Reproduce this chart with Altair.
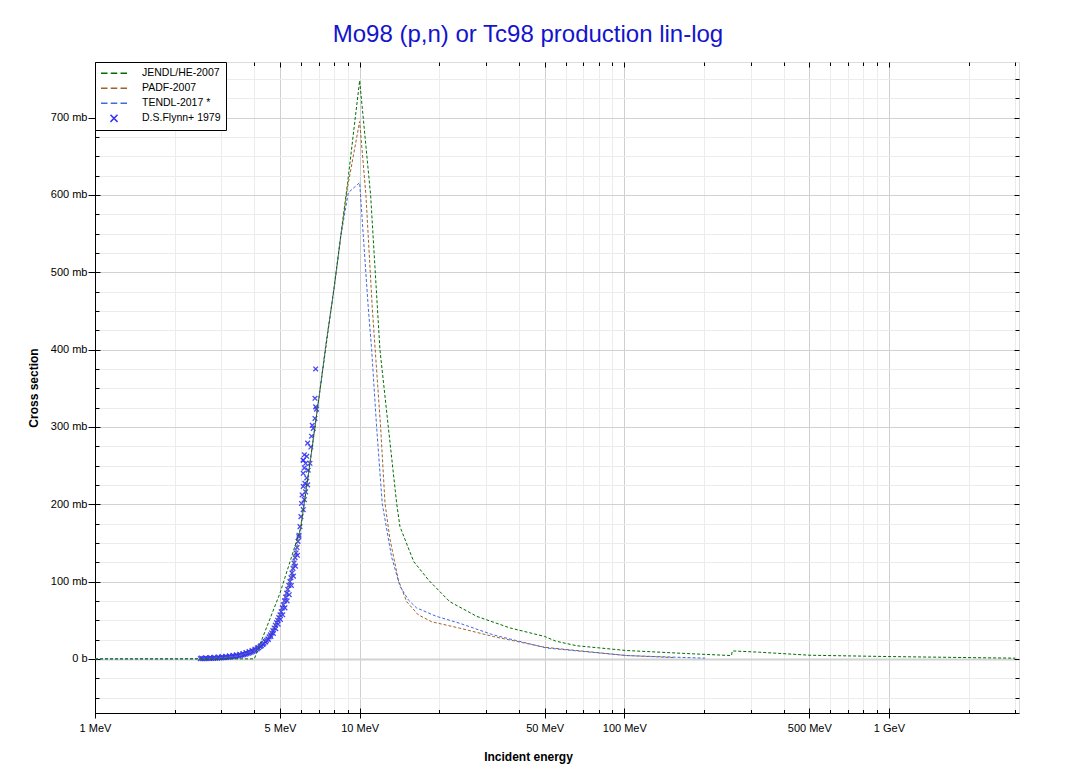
import altair as alt
import pandas as pd

# ---------------- data ----------------
series_names = ["JENDL/HE-2007", "PADF-2007", "TENDL-2017 *", "D.S.Flynn+ 1979"]
series_colors = ["#006d00", "#a0602a", "#4169e1", "#3535f5"]

jendl_e = [1, 2, 3, 4.0, 5, 6, 7, 8, 9, 10, 11.0, 11.93, 12.83, 13.8, 14.2, 16, 18.2,
           21.9, 27.7, 37, 50, 55, 66, 102, 182, 254, 256, 325, 503, 1000, 3000]
jendl_s = [0, 0, 0, 0, 85, 170, 335, 480, 615, 748, 600, 400, 300, 201, 171, 126, 102,
           74, 55, 40, 29, 23, 17, 10.8, 6.5, 4.3, 10.3, 8.6, 4.7, 3.0, 0.9]

padf_e = [2.47, 3.0, 3.5, 4.0, 4.5, 5.0, 5.5, 6.0, 6.5, 7.0, 7.5, 8.0, 8.5, 9.0, 10.0,
          10.56, 11.16, 12.0, 12.47, 13.0, 14.0, 15.05, 16.65, 18.7, 23.9, 32, 50, 102, 153]
padf_s = [0, 1.3, 4, 10.5, 26, 57, 105, 173, 254, 335, 413, 478, 548, 610, 695,
          600, 454, 300, 201, 156, 102, 74, 57, 48, 39.7, 28.9, 15, 4.3, 1.7]

tendl_e = [1, 2, 2.5, 3.0, 3.5, 4.0, 4.5, 5.0, 5.5, 6.0, 6.5, 7.0, 7.5, 8.0, 8.5, 9.06, 10,
           10.78, 11.1, 11.59, 12.17, 12.83, 13.2, 14.2, 15.3, 16.4, 19.5, 23.9, 32, 51, 102, 202]
tendl_s = [0, 0, 0.2, 1.3, 4, 10.5, 26, 57, 105, 173, 254, 335, 413, 478, 548, 603, 616,
           454, 400, 300, 201, 156, 132, 94, 76, 66, 55, 46, 31, 14, 4.3, 0.9]

flynn_e = [2.50, 2.55, 2.60, 2.65, 2.70, 2.75, 2.80, 2.85, 2.90, 2.95,
           3.00, 3.05, 3.10, 3.15, 3.20, 3.25, 3.30, 3.35, 3.40, 3.45,
           3.50, 3.55, 3.60, 3.65, 3.70, 3.75, 3.80, 3.85, 3.90, 3.95,
           4.00, 4.05, 4.10, 4.15, 4.20, 4.25, 4.30, 4.35, 4.40, 4.45,
           4.50, 4.55, 4.60, 4.65, 4.70, 4.75, 4.80, 4.85, 4.90, 4.95,
           5.00, 5.05, 5.10, 5.15, 5.20, 5.25, 5.30, 5.35, 5.40, 5.45,
           5.50, 5.55, 5.60, 5.65, 5.70, 5.75, 5.80, 5.85, 5.90,
           2.52, 2.62, 2.72, 2.82, 2.92, 3.02, 3.12, 3.22, 3.32, 3.42,
           3.52, 3.62, 3.72, 3.82, 3.92, 4.02, 4.12, 4.22, 4.32, 4.42,
           4.52, 4.62, 4.72, 4.82, 4.92, 5.02, 5.12, 5.22, 5.32, 5.42,
           5.52, 5.62, 5.72, 5.82,
           5.89, 5.95, 6.00, 6.03, 6.12, 6.06, 6.18, 6.12, 6.25, 6.12,
           6.36, 6.21, 6.31, 6.39, 6.12, 6.18, 6.49, 6.25, 6.12, 6.31,
           6.18, 6.54, 6.36, 6.58, 6.68, 6.62, 6.78, 6.87, 6.82, 6.78, 6.82]
flynn_s = [0.2, 0.3, 0.3, 0.4, 0.5, 0.6, 0.7, 0.8, 1.0, 1.1,
           1.3, 1.5, 1.7, 1.9, 2.2, 2.4, 2.7, 3.0, 3.3, 3.7,
           4.0, 4.5, 5.0, 5.5, 6.0, 6.6, 7.3, 8.0, 8.8, 9.6,
           10.5, 11.7, 13.0, 14.3, 15.6, 17, 18.7, 20.4, 22.3, 24,
           26, 28.5, 31, 33.5, 36.5, 40, 43.5, 47, 50, 53.5,
           57, 61, 66, 70, 75, 80, 85, 90, 95, 100,
           105, 111, 117, 124, 131, 137, 144, 152, 160,
           1.2, 1.5, 1.8, 2.1, 2.5, 2.9, 3.3, 3.9, 4.5, 5.2,
           6.0, 7.0, 8.1, 9.4, 10.8, 12.4, 14.4, 16.6, 19.2, 22,
           25, 29, 33, 39, 45, 51, 57, 66, 75, 83,
           95, 107, 120, 134,
           158, 171, 184, 201, 193, 212, 206, 223, 216, 240,
           225, 227, 234, 244, 257, 247, 253, 253, 257, 262,
           264, 274, 279, 288, 298, 302, 311, 323, 326, 337, 375]

x_major = [1, 5, 10, 50, 100, 500, 1000]
x_minor = [2, 3, 4, 6, 7, 8, 9, 20, 30, 40, 60, 70, 80, 90,
           200, 300, 400, 600, 700, 800, 900, 2000, 3000]
x_ticks = sorted(x_major + x_minor)
y_ticks = [-50, -25, 0, 25, 50, 75, 100, 125, 150, 175, 200, 225, 250, 275, 300, 325,
           350, 375, 400, 425, 450, 475, 500, 525, 550, 575, 600, 625, 650, 675, 700, 725, 750]

# ---------------- tables ----------------
rows = []
for name, es, ss in [(series_names[0], jendl_e, jendl_s),
                     (series_names[1], padf_e, padf_s),
                     (series_names[2], tendl_e, tendl_s)]:
    for i, (e, s) in enumerate(zip(es, ss)):
        rows.append({"series": name, "E": e, "S": s, "i": i})
lines_df = pd.DataFrame(rows)
pts_df = pd.DataFrame({"series": series_names[3], "E": flynn_e, "S": flynn_s})

FONT = "Liberation Sans"
W, H = 924, 651

xscale = alt.Scale(type="log", domain=[1, 3100], nice=False)
yscale = alt.Scale(domain=[-70, 772], nice=False, zero=False)

dash_path = "M-1,0L-0.5,0M-0.25,0L0.25,0M0.5,0L1,0"
x_path = "M-0.27,-0.27L0.27,0.27M0.27,-0.27L-0.27,0.27"
cscale = alt.Scale(domain=series_names, range=series_colors)
sscale = alt.Scale(domain=series_names, range=[dash_path, dash_path, dash_path, x_path])

xmaj_test = "indexof([" + ",".join(str(v) for v in x_major) + "], datum.value) >= 0"
ymaj_test = "datum.value % 100 == 0"


def cond(test, a, b):
    return {"condition": {"test": test, "value": a}, "value": b}


ax_x_main = alt.Axis(
    orient="bottom", values=x_ticks,
    labelExpr="(" + xmaj_test + ") ? (datum.value >= 1000 ? (datum.value / 1000) + ' GeV' : datum.value + ' MeV') : ''",
    grid=True, gridColor=cond(xmaj_test, "#cfcfcf", "#ececec"), gridWidth=1,
    tickSize=cond(xmaj_test, 5, 0), tickColor="black", domainColor="black", domainWidth=1,
    labelFont=FONT, labelFontSize=11, labelColor="black", labelPadding=4,
    labelFlush=False, labelOverlap=False,
    title="Incident energy", titleFont=FONT, titleFontSize=12, titleFontWeight="bold",
    titleColor="black", titleX=433, titleY=38)

ax_y_main = alt.Axis(
    orient="left", values=y_ticks,
    labelExpr="datum.value == 0 ? '0 b' : (datum.value % 100 == 0 ? datum.value + ' mb' : '')",
    grid=True, gridColor=cond(ymaj_test, "#d2d2d2", "#ececec"),
    gridWidth=cond("datum.value == 0", 2, 1),
    tickSize=cond(ymaj_test, 7, 0), tickColor="black", domainColor="black", domainWidth=1,
    labelFont=FONT, labelFontSize=11, labelColor="black", labelPadding=1,
    labelFlush=False, labelOverlap=False,
    title="Cross section", titleFont=FONT, titleFontSize=12, titleFontWeight="bold",
    titleColor="black", titleX=-55, titleY=325.5)


def inner_x(orient):
    return alt.Axis(orient=orient, offset=-H, values=x_ticks, labels=False, grid=False,
                    domain=False, tickSize=cond(xmaj_test, 5, 3.5), tickColor="black",
                    title=None)


def inner_y(orient):
    return alt.Axis(orient=orient, offset=-W, values=y_ticks, labels=False, grid=False,
                    domain=False, tickSize=cond(ymaj_test, 5, 4), tickColor="black",
                    title=None)


leg = alt.Legend(title=None, orient="top-left", offset=0, padding=5,
                 fillColor="white", strokeColor="black", cornerRadius=0,
                 symbolSize=676, symbolStrokeWidth=1.5, symbolOpacity=1,
                 labelFont=FONT, labelFontSize=10.5, labelColor="black", labelOffset=14,
                 clipHeight=12.7, rowPadding=2)

pts = alt.Chart(pts_df).mark_point(filled=False, size=300, strokeWidth=1.3, opacity=0.9).encode(
    x=alt.X("E:Q", scale=xscale, axis=ax_x_main),
    y=alt.Y("S:Q", scale=yscale, axis=ax_y_main),
    color=alt.Color("series:N", scale=cscale, legend=leg),
    shape=alt.Shape("series:N", scale=sscale, legend=leg),
)

lines_a = alt.Chart(lines_df).transform_filter(
    alt.FieldOneOfPredicate(field="series", oneOf=series_names[1:3])
).mark_line(strokeDash=[3, 2], strokeWidth=1).encode(
    x=alt.X("E:Q", scale=xscale, axis=inner_x("top")),
    y=alt.Y("S:Q", scale=yscale, axis=inner_y("right")),
    color=alt.Color("series:N", scale=cscale, legend=None),
    order="i:Q",
)

lines_b = alt.Chart(lines_df).transform_filter(
    alt.FieldEqualPredicate(field="series", equal=series_names[0])
).mark_line(strokeDash=[3, 2], strokeWidth=1).encode(
    x=alt.X("E:Q", scale=xscale, axis=inner_x("bottom")),
    y=alt.Y("S:Q", scale=yscale, axis=inner_y("left")),
    color=alt.Color("series:N", scale=cscale, legend=None),
    order="i:Q",
)

chart = alt.layer(pts, lines_a, lines_b).resolve_axis(
    x="independent", y="independent"
).properties(
    width=W, height=H,
    autosize=alt.AutoSizeParams(type="none"),
    padding={"left": 87, "top": 54, "right": 30, "bottom": 55},
    background="white",
    title=alt.Title("Mo98 (p,n) or Tc98 production lin-log", font=FONT, fontSize=24,
                    fontWeight="normal", color="#1414cc", anchor="middle", dx=-29, offset=15),
).configure_view(stroke="black", strokeWidth=1).configure(font=FONT)

chart.save("out.html", embed_options={"renderer": "svg", "actions": False})
